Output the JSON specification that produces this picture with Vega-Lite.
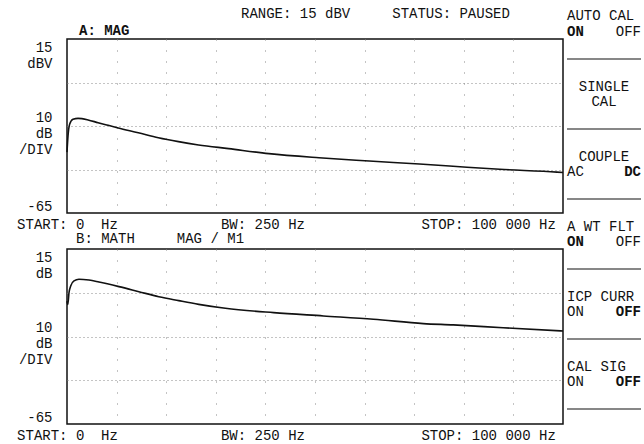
{
  "$schema": "https://vega.github.io/schema/vega-lite/v6.json",
  "background": "white",
  "padding": {"left": 15, "top": 6, "right": 2, "bottom": 2},
  "config": {
    "font": "Liberation Mono",
    "view": {"stroke": "#111", "strokeWidth": 1.5},
    "axis": {"labelFont": "Liberation Mono", "labelFontSize": 14, "labelColor": "#111", "labelFontWeight": "normal"},
    "title": {"font": "Liberation Mono", "fontSize": 14, "color": "#111"},
    "text": {"font": "Liberation Mono", "fontSize": 14, "color": "#111"}
  },
  "datasets": {
    "curveA": [
      {"freq": 0, "level": -37.0}, {"freq": 202, "level": -29.6}, {"freq": 547, "level": -24.1},
      {"freq": 1215, "level": -21.9}, {"freq": 2227, "level": -21.5}, {"freq": 4251, "level": -22.2},
      {"freq": 6275, "level": -23.5}, {"freq": 8300, "level": -24.7}, {"freq": 10324, "level": -25.9},
      {"freq": 14372, "level": -28.1}, {"freq": 18421, "level": -30.4}, {"freq": 22470, "level": -32.2},
      {"freq": 26518, "level": -33.7}, {"freq": 32591, "level": -35.4}, {"freq": 40688, "level": -37.7},
      {"freq": 50810, "level": -39.6}, {"freq": 60931, "level": -41.1}, {"freq": 71053, "level": -42.5},
      {"freq": 77126, "level": -43.4}, {"freq": 87247, "level": -44.9}, {"freq": 98785, "level": -46.2},
      {"freq": 100000, "level": -46.4}
    ],
    "curveB": [
      {"freq": 0, "level": -8.8}, {"freq": 160, "level": -10.3}, {"freq": 402, "level": -5.0},
      {"freq": 744, "level": -1.9}, {"freq": 1408, "level": 0.4}, {"freq": 2414, "level": 1.2},
      {"freq": 4427, "level": 0.8}, {"freq": 6439, "level": -0.1}, {"freq": 10463, "level": -2.2},
      {"freq": 14487, "level": -4.5}, {"freq": 18511, "level": -6.8}, {"freq": 22535, "level": -8.6},
      {"freq": 26559, "level": -10.3}, {"freq": 31932, "level": -12.1}, {"freq": 41650, "level": -14.1},
      {"freq": 51710, "level": -15.6}, {"freq": 61771, "level": -17.1}, {"freq": 71831, "level": -19.1},
      {"freq": 77867, "level": -19.7}, {"freq": 87928, "level": -21.0}, {"freq": 100000, "level": -22.5}
    ],
    "menu": [
      {"slot": 0, "line": 1, "side": "L", "text": "AUTO CAL", "bold": false},
      {"slot": 0, "line": 2, "side": "L", "text": "ON", "bold": true},
      {"slot": 0, "line": 2, "side": "R", "text": "OFF", "bold": false},
      {"slot": 1, "line": 1, "side": "C", "text": ["SINGLE", "CAL"], "bold": false},
      {"slot": 2, "line": 1, "side": "C", "text": "COUPLE", "bold": false},
      {"slot": 2, "line": 2, "side": "L", "text": "AC", "bold": false},
      {"slot": 2, "line": 2, "side": "R", "text": "DC", "bold": true},
      {"slot": 3, "line": 1, "side": "L", "text": "A WT FLT", "bold": false},
      {"slot": 3, "line": 2, "side": "L", "text": "ON", "bold": true},
      {"slot": 3, "line": 2, "side": "R", "text": "OFF", "bold": false},
      {"slot": 4, "line": 1, "side": "L", "text": "ICP CURR", "bold": false},
      {"slot": 4, "line": 2, "side": "L", "text": "ON", "bold": false},
      {"slot": 4, "line": 2, "side": "R", "text": "OFF", "bold": true},
      {"slot": 5, "line": 1, "side": "L", "text": "CAL SIG", "bold": false},
      {"slot": 5, "line": 2, "side": "L", "text": "ON", "bold": false},
      {"slot": 5, "line": 2, "side": "R", "text": "OFF", "bold": true}
    ],
    "seps": [{"k": 1}, {"k": 2}, {"k": 3}, {"k": 4}, {"k": 5}, {"k": 6}]
  },
  "bounds": "flush",
  "columns": 2,
  "spacing": {"row": 36, "column": 4},
  "concat": [
    {
      "width": 496, "height": 174,
      "title": {"text": "A:\u00a0MAG", "anchor": "start", "frame": "group", "dx": 12, "offset": -10, "fontWeight": "bold", "baseline": "alphabetic"},
      "data": {"name": "curveA"},
      "mark": {"type": "line", "color": "#111", "strokeWidth": 1.6, "interpolate": "monotone"},
      "encoding": {
        "x": {"field": "freq", "type": "quantitative", "scale": {"domain": [0, 100000], "nice": false, "zero": false},
              "axis": {"values": [0, 10000, 20000, 30000, 39400, 40000, 50000, 60000, 70000, 80000, 84900, 90000],
                       "labelExpr": "datum.value == 0 ? 'START:\u00a00\u00a0\u00a0Hz' : datum.value == 39400 ? 'BW:\u00a0250\u00a0Hz' : datum.value == 84900 ? 'STOP:\u00a0100\u00a0000\u00a0Hz' : ''",
                       "grid": true, "gridDash": [1, 10], "gridColor": "#888", "gridWidth": 1,
                       "gridOpacity": {"condition": {"test": "datum.value % 10000 == 0 && datum.value > 0", "value": 1}, "value": 0},
                       "labelFlush": false, "labelOverlap": false, "labelBound": false, "ticks": false, "tickSize": 0, "domain": false,
                       "labelPadding": 4, "labelBaseline": "top", "labelAlign": "center", "title": null}},
        "y": {"field": "level", "type": "quantitative", "scale": {"domain": [-65, 15], "nice": false, "zero": false},
              "axis": {"values": [10.9, -5, -21, -25, -45, -65],
                       "labelExpr": "datum.value > 0 ? ['15','dBV'] : datum.value == -21 ? ['10','dB','/DIV'] : datum.value == -65 ? '-65' : ''",
                       "grid": true, "gridDash": [1, 3], "gridColor": "#888", "gridWidth": 1,
                       "gridOpacity": {"condition": {"test": "datum.value == -5 || datum.value == -25 || datum.value == -45", "value": 1}, "value": 0},
                       "labelAlign": "right", "labelLineHeight": 16, "labelPadding": 15, "labelBound": false,
                       "labelBaseline": {"condition": {"test": "datum.value == -65", "value": "bottom"}, "value": "middle"},
                       "ticks": false, "tickSize": 0, "domain": false, "labelOverlap": false, "labelFlush": false, "title": null}}
      }
    },
    {
      "width": 74, "height": 174,
      "view": {"stroke": null},
      "title": {"text": "RANGE:\u00a015\u00a0dBV\u00a0\u00a0\u00a0\u00a0\u00a0STATUS:\u00a0PAUSED", "anchor": "start", "frame": "group", "dx": -326, "offset": -23, "fontWeight": "normal", "baseline": "alphabetic"},
      "data": {"name": "menu"},
      "transform": [{"filter": "datum.slot <= 2"}],
      "layer": [
        {
          "data": {"name": "seps"},
          "transform": [{"filter": "datum.k <= 3"}],
          "mark": {"type": "rule", "color": "#111", "strokeWidth": 1.2},
          "encoding": {"y": {"field": "k", "type": "quantitative", "scale": {"domain": [0.7143, 3.2], "reverse": true, "nice": false, "zero": false}, "axis": null}}
        },
        {
          "transform": [{"filter": "datum.line == 1 && datum.side == 'L'"}],
          "mark": {"type": "text", "align": "left", "baseline": "middle", "dy": 27},
          "encoding": {
            "x": {"field": "side", "type": "nominal", "scale": {"type": "point", "padding": 0, "domain": ["L", "C", "R"]}, "axis": null},
            "y": {"field": "slot", "type": "quantitative"},
            "text": {"field": "text"}
          }
        },
        {
          "transform": [{"filter": "datum.line == 1 && datum.side == 'C'"}],
          "mark": {"type": "text", "align": "center", "baseline": "middle", "dy": 28, "lineHeight": 15},
          "encoding": {"x": {"field": "side", "type": "nominal"}, "y": {"field": "slot", "type": "quantitative"}, "text": {"field": "text"}}
        },
        {
          "transform": [{"filter": "datum.line == 2 && datum.side == 'L' && !datum.bold"}],
          "mark": {"type": "text", "align": "left", "baseline": "middle", "dy": 43},
          "encoding": {"x": {"field": "side", "type": "nominal"}, "y": {"field": "slot", "type": "quantitative"}, "text": {"field": "text"}}
        },
        {
          "transform": [{"filter": "datum.line == 2 && datum.side == 'L' && datum.bold"}],
          "mark": {"type": "text", "align": "left", "baseline": "middle", "dy": 43, "fontWeight": "bold"},
          "encoding": {"x": {"field": "side", "type": "nominal"}, "y": {"field": "slot", "type": "quantitative"}, "text": {"field": "text"}}
        },
        {
          "transform": [{"filter": "datum.line == 2 && datum.side == 'R' && !datum.bold"}],
          "mark": {"type": "text", "align": "right", "baseline": "middle", "dy": 43},
          "encoding": {"x": {"field": "side", "type": "nominal"}, "y": {"field": "slot", "type": "quantitative"}, "text": {"field": "text"}}
        },
        {
          "transform": [{"filter": "datum.line == 2 && datum.side == 'R' && datum.bold"}],
          "mark": {"type": "text", "align": "right", "baseline": "middle", "dy": 43, "fontWeight": "bold"},
          "encoding": {"x": {"field": "side", "type": "nominal"}, "y": {"field": "slot", "type": "quantitative"}, "text": {"field": "text"}}
        }
      ]
    },
    {
      "width": 496, "height": 175,
      "title": {"text": "B:\u00a0MATH\u00a0\u00a0\u00a0\u00a0\u00a0MAG\u00a0/\u00a0M1", "anchor": "start", "frame": "group", "dx": 9, "offset": -8, "fontWeight": "normal", "baseline": "alphabetic"},
      "data": {"name": "curveB"},
      "mark": {"type": "line", "color": "#111", "strokeWidth": 1.6, "interpolate": "monotone"},
      "encoding": {
        "x": {"field": "freq", "type": "quantitative", "scale": {"domain": [0, 100000], "nice": false, "zero": false},
              "axis": {"values": [0, 10000, 20000, 30000, 39400, 40000, 50000, 60000, 70000, 80000, 84900, 90000],
                       "labelExpr": "datum.value == 0 ? 'START:\u00a00\u00a0\u00a0Hz' : datum.value == 39400 ? 'BW:\u00a0250\u00a0Hz' : datum.value == 84900 ? 'STOP:\u00a0100\u00a0000\u00a0Hz' : ''",
                       "grid": true, "gridDash": [1, 10], "gridColor": "#888", "gridWidth": 1,
                       "gridOpacity": {"condition": {"test": "datum.value % 10000 == 0 && datum.value > 0", "value": 1}, "value": 0},
                       "labelFlush": false, "labelOverlap": false, "labelBound": false, "ticks": false, "tickSize": 0, "domain": false,
                       "labelPadding": 4, "labelBaseline": "top", "labelAlign": "center", "title": null}},
        "y": {"field": "level", "type": "quantitative", "scale": {"domain": [-65, 15], "nice": false, "zero": false},
              "axis": {"values": [10.9, -5, -21, -25, -45, -65],
                       "labelExpr": "datum.value > 0 ? ['15','dB'] : datum.value == -21 ? ['10','dB','/DIV'] : datum.value == -65 ? '-65' : ''",
                       "grid": true, "gridDash": [1, 3], "gridColor": "#888", "gridWidth": 1,
                       "gridOpacity": {"condition": {"test": "datum.value == -5 || datum.value == -25 || datum.value == -45", "value": 1}, "value": 0},
                       "labelAlign": "right", "labelLineHeight": 16, "labelPadding": 15, "labelBound": false,
                       "labelBaseline": {"condition": {"test": "datum.value == -65", "value": "bottom"}, "value": "middle"},
                       "ticks": false, "tickSize": 0, "domain": false, "labelOverlap": false, "labelFlush": false, "title": null}}
      }
    },
    {
      "width": 74, "height": 175,
      "view": {"stroke": null},
      "data": {"name": "menu"},
      "transform": [{"filter": "datum.slot >= 3"}],
      "layer": [
        {
          "data": {"name": "seps"},
          "transform": [{"filter": "datum.k >= 4"}],
          "mark": {"type": "rule", "color": "#111", "strokeWidth": 1.2},
          "encoding": {"y": {"field": "k", "type": "quantitative", "scale": {"domain": [3.7143, 6.2143], "reverse": true, "nice": false, "zero": false}, "axis": null}}
        },
        {
          "transform": [{"filter": "datum.line == 1"}],
          "mark": {"type": "text", "align": "left", "baseline": "middle", "dy": 28},
          "encoding": {
            "x": {"field": "side", "type": "nominal", "scale": {"type": "point", "padding": 0, "domain": ["L", "C", "R"]}, "axis": null},
            "y": {"field": "slot", "type": "quantitative"},
            "text": {"field": "text"}
          }
        },
        {
          "transform": [{"filter": "datum.line == 2 && datum.side == 'L' && !datum.bold"}],
          "mark": {"type": "text", "align": "left", "baseline": "middle", "dy": 43},
          "encoding": {"x": {"field": "side", "type": "nominal"}, "y": {"field": "slot", "type": "quantitative"}, "text": {"field": "text"}}
        },
        {
          "transform": [{"filter": "datum.line == 2 && datum.side == 'L' && datum.bold"}],
          "mark": {"type": "text", "align": "left", "baseline": "middle", "dy": 43, "fontWeight": "bold"},
          "encoding": {"x": {"field": "side", "type": "nominal"}, "y": {"field": "slot", "type": "quantitative"}, "text": {"field": "text"}}
        },
        {
          "transform": [{"filter": "datum.line == 2 && datum.side == 'R' && !datum.bold"}],
          "mark": {"type": "text", "align": "right", "baseline": "middle", "dy": 43},
          "encoding": {"x": {"field": "side", "type": "nominal"}, "y": {"field": "slot", "type": "quantitative"}, "text": {"field": "text"}}
        },
        {
          "transform": [{"filter": "datum.line == 2 && datum.side == 'R' && datum.bold"}],
          "mark": {"type": "text", "align": "right", "baseline": "middle", "dy": 43, "fontWeight": "bold"},
          "encoding": {"x": {"field": "side", "type": "nominal"}, "y": {"field": "slot", "type": "quantitative"}, "text": {"field": "text"}}
        }
      ]
    }
  ]
}
